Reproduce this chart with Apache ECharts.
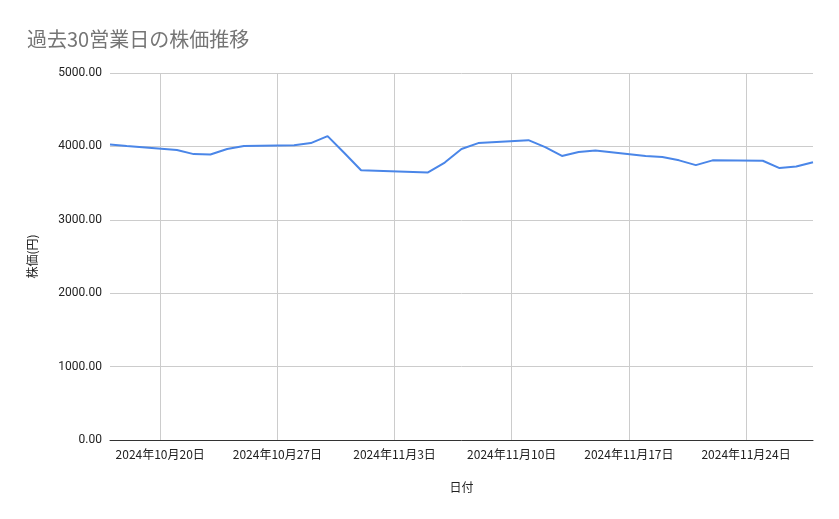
<!DOCTYPE html>
<html><head><meta charset="utf-8">
<script src="https://cdn.jsdelivr.net/npm/echarts@6/dist/echarts.min.js"></script>
<style>html,body{margin:0;padding:0;background:#fff}#c{width:839px;height:519px}</style>
</head><body><div id="c"></div>
<script>
const dates = ['2024-10-17','2024-10-18','2024-10-21','2024-10-22','2024-10-23','2024-10-24','2024-10-25',
  '2024-10-28','2024-10-29','2024-10-30','2024-10-31','2024-11-01','2024-11-05','2024-11-06','2024-11-07',
  '2024-11-08','2024-11-11','2024-11-12','2024-11-13','2024-11-14','2024-11-15','2024-11-18','2024-11-19',
  '2024-11-20','2024-11-21','2024-11-22','2024-11-25','2024-11-26','2024-11-27','2024-11-28'];
const prices = [4025,4005,3950,3895,3890,3965,4005,4015,4045,4140,3910,3675,3645,3780,3965,
  4045,4085,3990,3870,3925,3945,3870,3855,3810,3745,3810,3805,3705,3725,3785];
const xTickDates = ['2024-10-20','2024-10-27','2024-11-03','2024-11-10','2024-11-17','2024-11-24'];
const yTicks = [0,1000,2000,3000,4000,5000];

function ts(s){const p=s.split('-').map(Number);return new Date(p[0],p[1]-1,p[2]).getTime();}
const xTicks = xTickDates.map(ts);
const font = "Roboto, 'Noto Sans CJK JP', sans-serif";
const chart = echarts.init(document.getElementById('c'));
chart.setOption({
  animation:false,
  title:{text:'過去30営業日の株価推移',left:22,top:24,textStyle:{fontSize:20,fontWeight:'normal',color:'#757575',fontFamily:"'Noto Sans CJK JP', sans-serif"}},
  grid:{left:110,right:26,top:73,bottom:79,containLabel:false},
  xAxis:{type:'value',min:ts(dates[0]),max:ts(dates[dates.length-1]),
    name:'日付',nameLocation:'middle',nameGap:41,
    nameTextStyle:{fontSize:12,color:'#222',fontFamily:"'Noto Sans CJK JP', sans-serif"},
    axisLine:{show:true,onZero:false,lineStyle:{color:'#333',width:1}},
    axisTick:{show:false,customValues:xTicks},
    axisLabel:{customValues:xTicks,fontSize:12,color:'#222',margin:8,fontFamily:"'Noto Sans CJK JP', sans-serif",
      formatter:function(v){const d=new Date(v);return d.getFullYear()+'年'+(d.getMonth()+1)+'月'+d.getDate()+'日';}},
    splitLine:{show:true,lineStyle:{color:'#cccccc',width:1}}},
  yAxis:{type:'value',min:yTicks[0],max:yTicks[yTicks.length-1],interval:1000,
    name:'株価(円)',nameLocation:'middle',nameGap:72,nameRotate:90,
    nameTextStyle:{fontSize:12,color:'#222',fontFamily:"'Noto Sans CJK JP', sans-serif"},
    axisLine:{show:false},axisTick:{show:false},
    axisLabel:{fontSize:12,color:'#222',margin:8,fontFamily:font,formatter:function(v){return v.toFixed(2);}},
    splitLine:{show:true,lineStyle:{color:'#cccccc',width:1}}},
  series:[{type:'line',data:dates.map((d,i)=>[ts(d),prices[i]]),showSymbol:false,symbol:'none',
    lineStyle:{color:'#4a86e8',width:2},itemStyle:{color:'#4a86e8'}}]
});
</script></body></html>
